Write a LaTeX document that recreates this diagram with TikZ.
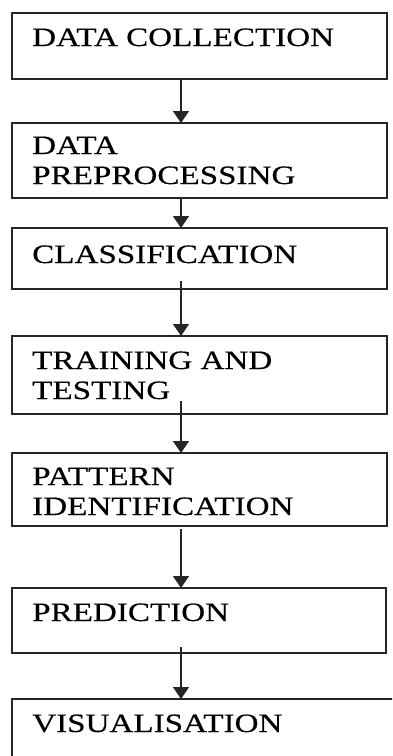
\documentclass[tikz,border=0pt]{standalone}
\usepackage{fontspec}
\setmainfont{Liberation Serif}
\newfontfamily\boxfont{Liberation Serif}[FakeStretch=1.25,FakeBold=0.4]
\usetikzlibrary{arrows.meta}
\begin{document}
\begin{tikzpicture}[x=1pt,y=-1pt,
  box/.style={draw=black!85, line width=1.5pt, inner sep=0pt, outer sep=0pt, anchor=north west, minimum width=375pt},
  lbl/.style={anchor=base west, inner sep=0pt, font=\boxfont\fontsize{26.5}{30}\selectfont},
  arr/.style={-{Triangle[width=16pt,length=12pt]}, line width=1.5pt, draw=black!85}]
\useasboundingbox (0,0) rectangle (392,756);
\clip (0,0) rectangle (392,756);
\node[box, minimum height=66pt] (b1) at (12,13) {};
\node[box, minimum height=75pt] (b2) at (12,123) {};
\node[box, minimum height=61pt] (b3) at (12,228) {};
\node[box, minimum height=78pt] (b4) at (12,336) {};
\node[box, minimum height=73pt] (b5) at (12,453) {};
\node[box, minimum height=65pt, minimum width=374pt] (b6) at (12,588) {};
\node[box, minimum height=80pt, minimum width=400pt] (b7) at (12,699) {};
\node[lbl] (t1) at (32,46) {DATA COLLECTION};
\node[lbl] (t2) at (32,154) {\begin{tabular}[t]{@{}l@{}}DATA\\PREPROCESSING\end{tabular}};
\node[lbl] (t3) at (32,263) {CLASSIFICATION};
\node[lbl] (t4) at (32,369) {\begin{tabular}[t]{@{}l@{}}TRAINING AND\\TESTING\end{tabular}};
\node[lbl] (t5) at (32,485) {\begin{tabular}[t]{@{}l@{}}PATTERN\\IDENTIFICATION\end{tabular}};
\node[lbl] (t6) at (32,621) {PREDICTION};
\node[lbl] (t7) at (32,732) {VISUALISATION};
\coordinate (s1) at (181,79);
\coordinate (s2) at (181,198);
\coordinate (s3) at (181,281);
\coordinate (s4) at (181,401);
\coordinate (s5) at (181,529);
\coordinate (s6) at (181,647);
\draw[arr] (s1) -- (b2.north -| s1);
\draw[arr] (s2) -- (b3.north -| s2);
\draw[arr] (s3) -- (b4.north -| s3);
\draw[arr] (s4) -- (b5.north -| s4);
\draw[arr] (s5) -- (b6.north -| s5);
\draw[arr] (s6) -- (b7.north -| s6);
\end{tikzpicture}
\end{document}
